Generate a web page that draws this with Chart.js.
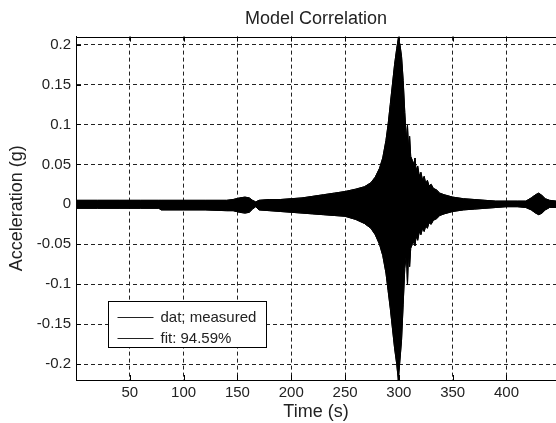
<!DOCTYPE html>
<html>
<head>
<meta charset="utf-8">
<title>Model Correlation</title>
<script src="https://cdn.jsdelivr.net/npm/chart.js@4.4.1/dist/chart.umd.min.js"></script>
<style>
  body { margin: 0; background: #fff; }
</style>
</head>
<body>
<canvas id="canvas" width="556" height="423"></canvas>
<script>
// envelope of the measured acceleration trace
const times = [0, 20, 40, 60, 77, 79, 100, 120, 140, 146, 152, 157, 161, 164, 167, 170, 180, 190,
  200, 210, 220, 230, 240, 250, 260, 268, 274, 278, 282, 285, 288, 290, 292, 294, 296, 298, 299.5,
  301, 302.5, 304, 305.5, 307, 308, 309, 310, 311, 312.5, 314, 315, 316, 317.5, 319, 320.5, 322,
  323.5, 325, 326.5, 328, 330, 332, 335, 338, 342, 350, 360, 370, 380, 390, 400, 410, 418, 423,
  427, 430, 433, 436, 440, 446];
const upperEnv = [0.005, 0.005, 0.005, 0.005, 0.005, 0.005, 0.005, 0.005, 0.005, 0.006, 0.008, 0.009,
  0.008, 0.005, 0.003, 0.005, 0.006, 0.006, 0.007, 0.008, 0.010, 0.012, 0.014, 0.016, 0.019, 0.022,
  0.027, 0.034, 0.045, 0.058, 0.080, 0.100, 0.125, 0.150, 0.175, 0.195, 0.208, 0.200, 0.185, 0.155,
  0.115, 0.080, 0.099, 0.070, 0.085, 0.060, 0.055, 0.050, 0.058, 0.042, 0.048, 0.035, 0.040, 0.030,
  0.035, 0.026, 0.030, 0.023, 0.025, 0.020, 0.018, 0.014, 0.012, 0.009, 0.007, 0.006, 0.005, 0.004,
  0.004, 0.004, 0.004, 0.008, 0.012, 0.014, 0.011, 0.007, 0.005, 0.004];
const lowerEnv = [-0.005, -0.005, -0.005, -0.005, -0.005, -0.007, -0.007, -0.007, -0.008, -0.008, -0.010, -0.011,
  -0.010, -0.006, -0.003, -0.007, -0.008, -0.009, -0.010, -0.011, -0.012, -0.013, -0.014, -0.015, -0.019, -0.024,
  -0.030, -0.038, -0.050, -0.064, -0.086, -0.108, -0.130, -0.155, -0.180, -0.200, -0.220, -0.195, -0.170, -0.125,
  -0.080, -0.062, -0.101, -0.060, -0.078, -0.055, -0.050, -0.047, -0.052, -0.040, -0.045, -0.034, -0.038, -0.030,
  -0.034, -0.027, -0.030, -0.023, -0.025, -0.020, -0.018, -0.014, -0.012, -0.009, -0.007, -0.006, -0.005, -0.004,
  -0.003, -0.003, -0.004, -0.007, -0.011, -0.013, -0.011, -0.007, -0.004, -0.004];

const xTicks = [50, 100, 150, 200, 250, 300, 350, 400];
const yTicks = [-0.2, -0.15, -0.1, -0.05, 0, 0.05, 0.1, 0.15, 0.2];
const seriesLabels = ['dat; measured', 'fit: 94.59%'];

const FONT = "'Liberation Sans', Arial, sans-serif";

function pts(vals) {
  return times.map(function (t, i) { return { x: t, y: vals[i] }; });
}

// top border, inward tick marks and the boxed legend (MATLAB style)
const matlabFrame = {
  id: 'matlabFrame',
  afterDatasetsDraw(chart) {
    const ctx = chart.ctx;
    const a = chart.chartArea;
    const sx = chart.scales.x, sy = chart.scales.y;
    ctx.save();
    ctx.strokeStyle = '#000';
    ctx.lineWidth = 1;
    ctx.beginPath();
    ctx.moveTo(a.left, Math.round(a.top) + 0.5);
    ctx.lineTo(a.right, Math.round(a.top) + 0.5);
    ctx.stroke();

    ctx.beginPath();
    xTicks.forEach(function (v) {
      const px = Math.round(sx.getPixelForValue(v)) + 0.5;
      ctx.moveTo(px, a.top); ctx.lineTo(px, a.top + 5);
      ctx.moveTo(px, a.bottom); ctx.lineTo(px, a.bottom - 5);
    });
    yTicks.forEach(function (v) {
      const py = Math.round(sy.getPixelForValue(v)) + 0.5;
      ctx.moveTo(a.left, py); ctx.lineTo(a.left + 5, py);
    });
    ctx.stroke();

    // legend
    const bx = Math.round(a.left + 32) + 0.5, by = Math.round(a.top + 264) + 0.5;
    const bw = 158, bh = 46;
    ctx.fillStyle = '#fff';
    ctx.fillRect(bx, by, bw, bh);
    ctx.strokeRect(bx, by, bw, bh);
    ctx.font = '15px ' + FONT;
    ctx.textBaseline = 'middle';
    ctx.textAlign = 'left';
    ctx.fillStyle = '#222';
    [15, 36].forEach(function (dy, i) {
      const ly = Math.round(by + dy) + 0.5;
      ctx.strokeStyle = '#222';
      ctx.beginPath();
      ctx.moveTo(bx + 9, ly); ctx.lineTo(bx + 45, ly);
      ctx.stroke();
      ctx.fillText(seriesLabels[i], bx + 52, ly);
    });
    ctx.restore();
  }
};

const base = { pointRadius: 0, borderWidth: 1, tension: 0, borderColor: '#000', backgroundColor: '#000' };

const data = {
  datasets: [
    Object.assign({ label: seriesLabels[0], data: pts(upperEnv), fill: '+1' }, base),
    Object.assign({ label: seriesLabels[0] + ' (lower)', data: pts(lowerEnv), fill: false }, base),
    Object.assign({ label: seriesLabels[1], data: pts(upperEnv), fill: false }, base),
    Object.assign({ label: seriesLabels[1] + ' (lower)', data: pts(lowerEnv), fill: false }, base)
  ]
};

const options = {
  responsive: false,
  animation: false,
  layout: { padding: 0 },
  plugins: {
    legend: { display: false },
    tooltip: { enabled: false },
    title: {
      display: true,
      text: 'Model Correlation',
      fullSize: false,
      color: '#222',
      font: { family: FONT, size: 18, weight: 'normal' },
      padding: { top: 8, bottom: 7 }
    }
  },
  scales: {
    x: {
      type: 'linear',
      min: 0,
      max: 446,
      afterFit: function (s) { s.height = 43; },
      afterBuildTicks: function (s) { s.ticks = xTicks.map(function (v) { return { value: v }; }); },
      grid: { color: '#222', lineWidth: 1, drawTicks: false },
      border: { display: true, color: '#000', width: 1, dash: [4, 3] },
      ticks: { color: '#222', padding: 4, maxRotation: 0, font: { family: FONT, size: 15 } },
      title: { display: true, text: 'Time (s)', color: '#222', font: { family: FONT, size: 18 }, padding: { top: 0, bottom: 0 } }
    },
    y: {
      min: -0.22,
      max: 0.21,
      afterFit: function (s) { s.width = 76; },
      afterBuildTicks: function (s) { s.ticks = yTicks.map(function (v) { return { value: v }; }); },
      grid: { color: '#222', lineWidth: 1, drawTicks: false },
      border: { display: true, color: '#000', width: 1, dash: [4, 3] },
      ticks: {
        color: '#222', padding: 5, font: { family: FONT, size: 15 },
        callback: function (v) { return String(Math.round(v * 100) / 100); }
      },
      title: { display: true, text: 'Acceleration (g)', color: '#222', font: { family: FONT, size: 18 }, padding: { top: 6, bottom: 0 } }
    }
  }
};

const chart = new Chart(document.getElementById('canvas'), {
  type: 'line',
  data: data,
  options: options,
  plugins: [matlabFrame]
});
</script>
</body>
</html>
